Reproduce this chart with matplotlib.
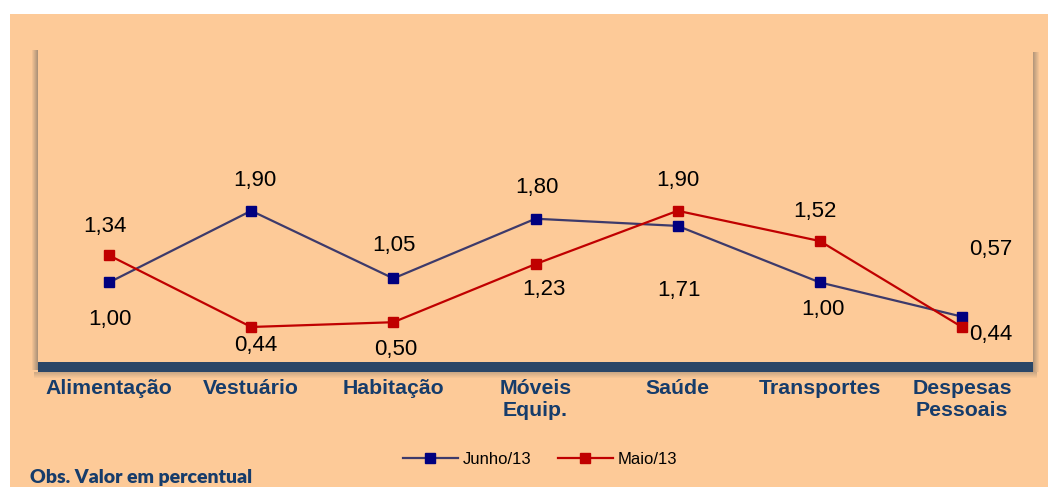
import matplotlib.pyplot as plt
from matplotlib.patches import Rectangle

# data (variação % por grupo)
categorias = ["Alimentação", "Vestuário", "Habitação", "Móveis\nEquip.",
              "Saúde", "Transportes", "Despesas\nPessoais"]
junho = [1.00, 1.90, 1.05, 1.80, 1.71, 1.00, 0.57]
maio = [1.34, 0.44, 0.50, 1.23, 1.90, 1.52, 0.44]
rotulos_junho = ["1,00", "1,90", "1,05", "1,80", "1,71", "1,00", "0,57"]
rotulos_maio = ["1,34", "0,44", "0,50", "1,23", "1,90", "1,52", "0,44"]

# label offsets in pixels (dx, dy)
off_junho = [(1, -37), (4, 30), (1, 33), (1, 31), (1, -65), (3, -27), (29, 67)]
off_maio = [(-4, 29), (5, -19), (2, -27), (8, -25), (0, 30), (-5, 30), (29, -8)]

PEACH = "#FDCA98"
NAVY_TXT = "#163C6B"
W, H = 1048, 487

fig = plt.figure(figsize=(W / 100, H / 100), dpi=100, facecolor="white")
fig.patches.append(Rectangle((10 / W, 0), 1, (H - 14) / H, transform=fig.transFigure,
                             facecolor=PEACH, edgecolor="none", zorder=0))

x0, x1, y0, y1 = 38, 1033, 50, 362
ax = fig.add_axes([x0 / W, 1 - y1 / H, (x1 - x0) / W, (y1 - y0) / H])
ax.set_zorder(5)
ax.patch.set_visible(False)
for s in ax.spines.values():
    s.set_visible(False)

# shadows on left and right, floor at bottom
for i in range(6):
    a = 0.55 * (1 - i / 6)
    fig.patches.append(Rectangle(((x0 - 1 - i) / W, 1 - (y1 + 8) / H), 1 / W, (y1 + 8 - y0) / H,
                                 transform=fig.transFigure, facecolor="#6E6660",
                                 edgecolor="none", alpha=a, zorder=1))
    fig.patches.append(Rectangle(((x1 + i) / W, 1 - (y1 + 10) / H), 1 / W, (y1 + 10 - y0 - 2) / H,
                                 transform=fig.transFigure, facecolor="#6E6660",
                                 edgecolor="none", alpha=a * 0.9, zorder=1))
    fig.patches.append(Rectangle(((x0 - 4) / W, 1 - (y1 + 11 + i) / H), (x1 - x0 + 8) / W, 1 / H,
                                 transform=fig.transFigure, facecolor="#6E6660",
                                 edgecolor="none", alpha=a * 0.6, zorder=1))
fig.patches.append(Rectangle((x0 / W, 1 - (y1 + 10) / H), (x1 - x0) / W, 10 / H,
                             transform=fig.transFigure, facecolor="#2B4667",
                             edgecolor="none", zorder=2))

xs = list(range(len(categorias)))
ax.plot(xs, junho, color="#3D3A6B", lw=1.6, marker="s", ms=6.5,
        mfc="#00007F", mec="#00007F", label="Junho/13", zorder=3)
ax.plot(xs, maio, color="#C00000", lw=1.6, marker="s", ms=6.5,
        mfc="#C00000", mec="#C00000", label="Maio/13", zorder=3)

for x, v, t, (dx, dy) in zip(xs, junho, rotulos_junho, off_junho):
    ax.annotate(t, (x, v), xytext=(dx * 0.72, dy * 0.72), textcoords="offset points",
                ha="center", va="center", fontsize=16, family="Liberation Sans")
for x, v, t, (dx, dy) in zip(xs, maio, rotulos_maio, off_maio):
    ax.annotate(t, (x, v), xytext=(dx * 0.72, dy * 0.72), textcoords="offset points",
                ha="center", va="center", fontsize=16, family="Liberation Sans")

ax.set_xlim(-0.5, len(categorias) - 0.5)
ax.set_ylim(0, 3.92)
ax.set_yticks([])
ax.set_xticks(xs)
ax.set_xticklabels(categorias, fontsize=15.3, fontweight="bold", color=NAVY_TXT,
                   family="Liberation Sans", linespacing=1.22)
ax.tick_params(axis="x", length=0, pad=12)

fig.legend(loc="center", bbox_to_anchor=(540 / W, 1 - 459 / H), ncol=2, frameon=False,
           prop={"family": "Liberation Sans", "size": 12}, handlelength=3.3,
           columnspacing=1.6, handletextpad=0.3)

fig.text(30 / W, 1 - 477 / H, "Obs. Valor em percentual", fontsize=14, fontweight="heavy",
         color=NAVY_TXT, family="Lato", va="center")

fig.savefig("out.png", dpi=100, facecolor="white")
